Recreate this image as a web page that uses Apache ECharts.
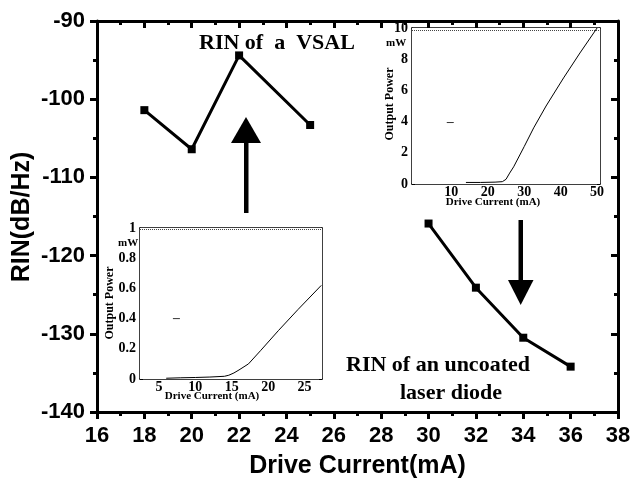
<!DOCTYPE html>
<html>
<head>
<meta charset="utf-8">
<script src="https://cdn.jsdelivr.net/npm/echarts@6/dist/echarts.min.js"></script>
<style>
html,body{margin:0;padding:0;background:#fff;}
#chart{width:632px;height:479px;}
</style>
</head>
<body>
<div id="chart"></div>
<script>
// Main chart data
const vsalCurrent = [18, 20, 22, 25];
const vsalRIN = [-101.4, -106.4, -94.4, -103.3];
const ldCurrent = [30, 32, 34, 36];
const ldRIN = [-115.9, -124.1, -130.5, -134.2];
const mainXTicks = [16, 18, 20, 22, 24, 26, 28, 30, 32, 34, 36, 38];
const mainYTicks = [-140, -130, -120, -110, -100, -90];

// Inset 1 (VSAL L-I curve)
const in1Current = [6, 8, 10, 12, 14, 14.6, 15.3, 16, 17.3, 19, 21.4, 24.1, 27.3];
const in1Power = [0.005, 0.008, 0.01, 0.013, 0.018, 0.025, 0.04, 0.06, 0.1, 0.19, 0.32, 0.46, 0.62];
const in1XLabels = [5, 10, 15, 20, 25];
const in1Marks = [8.4, 14.2, 26.6];
const in1Dash = [[7.4, 0.4]];

// Inset 2 (uncoated laser diode L-I curve)
const in2Current = [14, 18, 22, 24, 25, 26, 27.1, 30, 32.6, 36, 40.8, 45.3, 50];
const in2Power = [0.1, 0.1, 0.12, 0.15, 0.3, 0.7, 1.1, 2.4, 3.6, 5.0, 6.8, 8.4, 10];
const in2XLabels = [10, 20, 30, 40, 50];
const in2Marks = [11.6, 23.4, 24.2];
const in2Dash = [[9.7, 3.94]];

const zip = (a, b) => a.map((v, i) => [v, b[i]]);

const chart = echarts.init(document.getElementById('chart'), null, {renderer: 'canvas'});

const SANS = 'Liberation Sans, Arial, sans-serif';
const SERIF = 'Liberation Serif, Times New Roman, serif';

const mainAxisX = (pos, inside, showLabel) => ({
  type: 'value', gridIndex: 0, position: pos, min: 16, max: 38, interval: 2,
  axisLine: {show: true, onZero: false, lineStyle: {color: '#000', width: 3}},
  axisTick: {show: true, inside: inside, length: 7, lineStyle: {color: '#000', width: 3}},
  minorTick: {show: true, splitNumber: 2, length: 4, lineStyle: {color: '#000', width: 3}},
  axisLabel: {show: showLabel, color: '#000', fontFamily: SANS, fontWeight: 'bold', fontSize: 22, margin: 13},
  splitLine: {show: false}, minorSplitLine: {show: false}
});
const mainAxisY = (pos, inside, showLabel) => ({
  type: 'value', gridIndex: 0, position: pos, min: -140, max: -90, interval: 10,
  axisLine: {show: true, onZero: false, lineStyle: {color: '#000', width: 3}},
  axisTick: {show: true, inside: inside, length: 7, lineStyle: {color: '#000', width: 3}},
  minorTick: {show: true, splitNumber: 2, length: 4, lineStyle: {color: '#000', width: 3}},
  axisLabel: {show: showLabel, color: '#000', fontFamily: SANS, fontWeight: 'bold', fontSize: 22, margin: 12},
  splitLine: {show: false}, minorSplitLine: {show: false}
});

const insetX = (grid, pos, min, max, labels, showLabel, tickVals, tickLen) => ({
  type: 'value', gridIndex: grid, position: pos, min: min, max: max,
  axisLine: {show: true, onZero: false, lineStyle: {color: '#000', width: 1.5}},
  axisTick: {show: true, inside: true, length: tickLen, customValues: tickVals, lineStyle: {color: '#000', width: 1.5}},
  axisLabel: {show: showLabel, customValues: labels, color: '#000', fontFamily: SERIF, fontWeight: 'bold', fontSize: 14, margin: 1},
  splitLine: {show: false}
});
const insetY = (grid, pos, max, interval, showLabel) => ({
  type: 'value', gridIndex: grid, position: pos, min: 0, max: max, interval: interval,
  axisLine: {show: true, onZero: false, lineStyle: {color: '#000', width: 1.5}},
  axisTick: {show: true, inside: true, length: 3, lineStyle: {color: '#000', width: 1}},
  axisLabel: {show: showLabel, color: '#000', fontFamily: SERIF, fontWeight: 'bold', fontSize: 14, margin: 4},
  splitLine: {show: false}
});

const option = {
  animation: false,
  backgroundColor: '#fff',
  grid: [
    {left: 97, right: 14, top: 21, bottom: 67, outerBoundsMode: 'none', containLabel: false},
    {left: 140, top: 228, width: 182, height: 151, show: true, backgroundColor: '#fff', borderWidth: 0, z: 5, outerBoundsMode: 'none'},
    {left: 412, top: 28, width: 188, height: 156, show: true, backgroundColor: '#fff', borderWidth: 0, z: 5, outerBoundsMode: 'none'}
  ],
  xAxis: [
    Object.assign(mainAxisX('bottom', false, true), {
      name: 'Drive Current(mA)', nameLocation: 'middle', nameGap: 42,
      nameTextStyle: {color: '#000', fontFamily: SANS, fontWeight: 'bold', fontSize: 25}
    }),
    mainAxisX('top', true, false),
    // inset 1
    insetX(1, 'bottom', 2.4, 27.4, in1XLabels, true, in1XLabels, 3),
    insetX(1, 'top', 2.4, 27.4, in1XLabels, false, in1Marks, 6),
    Object.assign(insetX(1, 'bottom', 2.4, 27.4, in1XLabels, false, in1Marks, 6), {axisLine: {show: false}}),
    // inset 2
    insetX(2, 'bottom', -0.8, 50.8, in2XLabels, true, in2XLabels, 3),
    insetX(2, 'top', -0.8, 50.8, in2XLabels, false, in2Marks, 6),
    Object.assign(insetX(2, 'bottom', -0.8, 50.8, in2XLabels, false, in2Marks, 6), {axisLine: {show: false}})
  ],
  yAxis: [
    mainAxisY('left', false, true),
    mainAxisY('right', true, false),
    insetY(1, 'left', 1, 0.2, true),
    insetY(1, 'right', 1, 0.2, false),
    insetY(2, 'left', 10, 2, true),
    insetY(2, 'right', 10, 2, false)
  ],
  series: [
    {
      type: 'line', name: 'RIN of a VSAL', xAxisIndex: 0, yAxisIndex: 0,
      data: zip(vsalCurrent, vsalRIN), symbol: 'rect', symbolSize: 8,
      lineStyle: {color: '#000', width: 3}, itemStyle: {color: '#000'}
    },
    {
      type: 'line', name: 'RIN of an uncoated laser diode', xAxisIndex: 0, yAxisIndex: 0,
      data: zip(ldCurrent, ldRIN), symbol: 'rect', symbolSize: 8,
      lineStyle: {color: '#000', width: 3}, itemStyle: {color: '#000'}
    },
    {
      type: 'line', xAxisIndex: 2, yAxisIndex: 2, z: 6,
      data: zip(in1Current, in1Power), symbol: 'none',
      lineStyle: {color: '#000', width: 1},
      markLine: {silent: true, symbol: 'none', label: {show: false},
        lineStyle: {color: '#444', type: 'dotted', width: 1}, data: [{yAxis: 0.988}]}
    },
    {
      type: 'scatter', xAxisIndex: 2, yAxisIndex: 2, z: 6,
      data: in1Dash, symbol: 'rect', symbolSize: [7, 1], itemStyle: {color: '#000'}
    },
    {
      type: 'line', xAxisIndex: 5, yAxisIndex: 4, z: 6,
      data: zip(in2Current, in2Power), symbol: 'none',
      lineStyle: {color: '#000', width: 1},
      markLine: {silent: true, symbol: 'none', label: {show: false},
        lineStyle: {color: '#444', type: 'dotted', width: 1}, data: [{yAxis: 9.88}]}
    },
    {
      type: 'scatter', xAxisIndex: 5, yAxisIndex: 4, z: 6,
      data: in2Dash, symbol: 'rect', symbolSize: [7, 1], itemStyle: {color: '#000'}
    }
  ],
  graphic: [
    // y axis title
    {type: 'text', x: 22, y: 217, rotation: Math.PI / 2, z: 10,
      style: {text: 'RIN(dB/Hz)', fill: '#000', font: 'bold 25px ' + SANS, align: 'center', verticalAlign: 'middle'}},
    // annotations
    {type: 'text', left: 199, top: 32, z: 10, style: {text: 'RIN of  a  VSAL', fill: '#000', font: 'bold 22px ' + SERIF}},
    {type: 'text', left: 346, top: 354, z: 10, style: {text: 'RIN of an uncoated', fill: '#000', font: 'bold 22px ' + SERIF}},
    {type: 'text', left: 400, top: 382, z: 10, style: {text: 'laser diode', fill: '#000', font: 'bold 22px ' + SERIF}},
    // up arrow
    {type: 'rect', z: 10, shape: {x: 244, y: 140, width: 4.5, height: 73}, style: {fill: '#000'}},
    {type: 'polygon', z: 10, shape: {points: [[246, 117], [231, 143], [261, 143]]}, style: {fill: '#000'}},
    // down arrow
    {type: 'rect', z: 10, shape: {x: 518.5, y: 220, width: 4.5, height: 62}, style: {fill: '#000'}},
    {type: 'polygon', z: 10, shape: {points: [[520.7, 305], [508, 280], [533.5, 280]]}, style: {fill: '#000'}},
    // inset 1 labels
    {type: 'text', left: 118, top: 238, z: 10, style: {text: 'mW', fill: '#000', font: 'bold 11px ' + SERIF}},
    {type: 'text', x: 110, y: 303, rotation: Math.PI / 2, z: 10,
      style: {text: 'Output Power', fill: '#000', font: 'bold 12px ' + SERIF, align: 'center', verticalAlign: 'middle'}},
    {type: 'text', x: 212, y: 396, z: 10,
      style: {text: 'Drive Current (mA)', fill: '#000', font: 'bold 11px ' + SERIF, align: 'center', verticalAlign: 'middle'}},
    // inset 2 labels
    {type: 'text', left: 386, top: 38, z: 10, style: {text: 'mW', fill: '#000', font: 'bold 11px ' + SERIF}},
    {type: 'text', x: 390, y: 104, rotation: Math.PI / 2, z: 10,
      style: {text: 'Output Power', fill: '#000', font: 'bold 12px ' + SERIF, align: 'center', verticalAlign: 'middle'}},
    {type: 'text', x: 493, y: 202, z: 10,
      style: {text: 'Drive Current (mA)', fill: '#000', font: 'bold 11px ' + SERIF, align: 'center', verticalAlign: 'middle'}}
  ]
};
chart.setOption(option);
</script>
</body>
</html>
